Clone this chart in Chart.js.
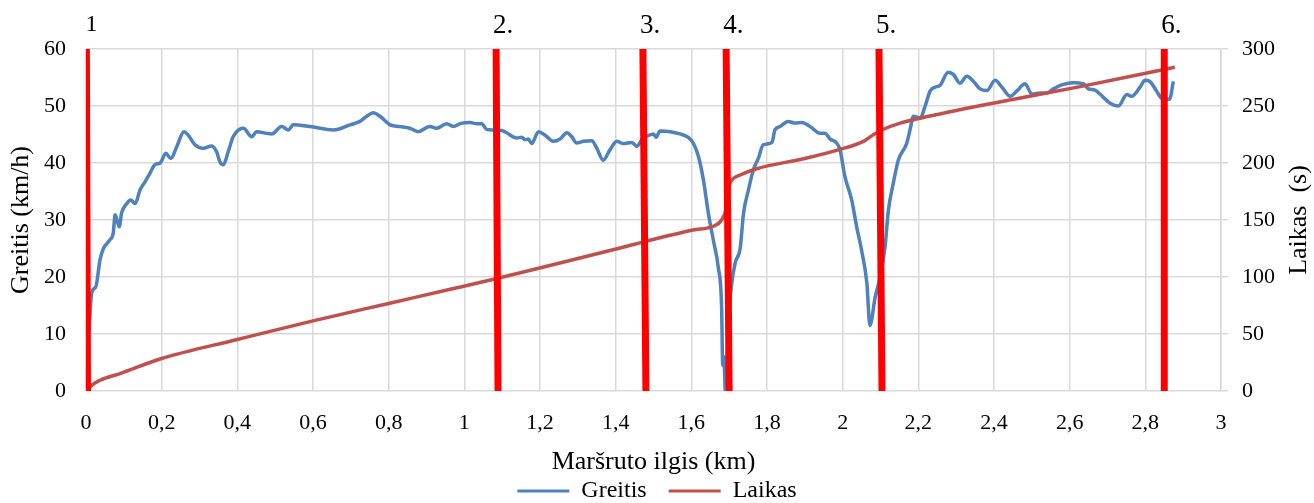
<!DOCTYPE html>
<html>
<head>
<meta charset="utf-8">
<script src="https://cdn.jsdelivr.net/npm/chart.js@4.4.1/dist/chart.umd.min.js"></script>
<style>
  html, body { margin: 0; padding: 0; background: #ffffff; }
  #wrap { width: 1314px; height: 503px; }
</style>
</head>
<body>
<div id="wrap"><canvas id="c" width="1314" height="503"></canvas></div>
<script>
// ---- DATA ----
const greitisKm = [0.008,0.015,0.026,0.037,0.046,0.063,0.072,0.077,0.088,0.094,0.108,0.118,0.13,0.143,0.156,0.169,0.182,0.196,0.211,0.224,0.24,0.259,0.27,0.288,0.31,0.332,0.345,0.354,0.363,0.376,0.389,0.416,0.438,0.451,0.478,0.491,0.517,0.535,0.548,0.592,0.654,0.698,0.724,0.742,0.759,0.777,0.804,0.83,0.856,0.878,0.909,0.927,0.953,0.971,0.989,1.015,1.033,1.046,1.059,1.077,1.099,1.112,1.138,1.152,1.16,1.169,1.178,1.196,1.213,1.235,1.253,1.271,1.284,1.297,1.315,1.337,1.35,1.367,1.385,1.403,1.42,1.443,1.456,1.469,1.486,1.5,1.507,1.517,1.544,1.57,1.592,1.605,1.619,1.632,1.645,1.658,1.671,1.68,1.683,1.686,1.69,1.70,1.707,1.716,1.729,1.738,1.751,1.764,1.777,1.79,1.813,1.821,1.835,1.856,1.874,1.892,1.914,1.94,1.953,1.967,1.984,1.993,2.006,2.024,2.037,2.05,2.064,2.072,2.086,2.099,2.112,2.121,2.134,2.147,2.169,2.178,2.187,2.205,2.218,2.231,2.244,2.257,2.279,2.293,2.31,2.328,2.346,2.363,2.381,2.403,2.421,2.443,2.46,2.482,2.5,2.522,2.54,2.557,2.579,2.61,2.636,2.65,2.667,2.68,2.707,2.729,2.751,2.764,2.786,2.799,2.812,2.83,2.843,2.864,2.874];
const greitisKmh = [10.5,17.2,18.3,23,25,26.5,27.7,30.9,28.8,31.2,32.9,33.5,32.9,35.3,36.7,38.2,39.7,40,41.7,40.8,42.9,45.5,44.9,43.2,42.6,43,42,40.2,39.7,42,44.6,46.1,44.6,45.5,45.2,45.1,46.4,45.8,46.7,46.4,45.8,46.7,47.3,48.2,48.8,48.2,46.7,46.4,46.1,45.5,46.4,46.1,46.9,46.4,46.9,47.1,46.9,46.9,45.9,45.8,45.7,45.3,44.4,44.5,44.1,44.2,43.4,45.5,44.9,43.8,44.2,45.3,44.6,43.5,43.8,43.9,42.6,40.5,42.3,43.8,43.4,43.6,42.9,44.1,44.8,45.1,44.5,45.6,45.5,45.1,44.5,43.5,41.1,37,31.2,26.5,21.8,14.8,4.5,6,0,14,19,22.5,25,31.2,35.3,38.8,40.8,43.2,43.6,45.8,46.4,47.3,47,47.1,46.4,45.2,45.2,44.2,43.5,42.3,37.6,33.5,28.8,24.7,18.9,11.5,16.5,20,25.3,31.8,36.5,40.5,43.4,45.8,48.2,47.9,50,52.6,53.3,53.6,55.9,55.5,54,55.2,54.3,53,52.7,54.5,53.3,51.7,52.6,53.9,52.1,52.3,52.3,53,53.7,54.1,53.9,53,52.8,52.1,50.5,50,52,51.7,53.3,54.5,54.3,52.6,51.4,51.2,54.3];

const laikasKm = [0.003,0.01,0.037,0.09,0.2,0.4,0.6,0.8,0.96,1.086,1.25,1.43,1.482,1.605,1.658,1.68,1.692,1.70,1.707,1.729,1.773,1.9,1.993,2.055,2.081,2.108,2.152,2.205,2.39,2.628,2.878];
const laikasS  = [0,3.5,9.4,15.3,28.5,45.2,61.5,76.8,89,98.7,112,127,131.5,141.2,144.5,150,160,180,185,189.5,195,204,212,219,224.7,229.6,235,239.3,252,267,284];

// Red marker lines: top / bottom positions (km) and labels
const markerTopKm    = [0.001, 1.084, 1.472, 1.692, 2.096, 2.850];
const markerBottomKm = [0.004, 1.089, 1.480, 1.700, 2.104, 2.850];
const markerLabels   = ['1', '2.', '3.', '4.', '5.', '6.'];

const speedTicks = [0, 10, 20, 30, 40, 50, 60];
const timeTicks = [0, 50, 100, 150, 200, 250, 300];

const seriesNames = ['Greitis', 'Laikas'];
const axisTitles = { x: 'Maršruto ilgis (km)', y: 'Greitis (km/h)', y1: 'Laikas  (s)' };

// ---- BUILD ----
const FONT = 'Liberation Serif, Times New Roman, serif';
const toPts = (xs, ys) => xs.map((x, i) => ({ x: x, y: ys[i] }));

const datasets = [
  {
    label: seriesNames[0], data: toPts(greitisKm, greitisKmh), yAxisID: 'y',
    borderColor: '#4F81BD', backgroundColor: '#4F81BD', borderWidth: 3.5,
    pointRadius: 0, cubicInterpolationMode: 'monotone', order: 2
  },
  {
    label: seriesNames[1], data: toPts(laikasKm, laikasS), yAxisID: 'y1',
    borderColor: '#C0504D', backgroundColor: '#C0504D', borderWidth: 3.5,
    pointRadius: 0, cubicInterpolationMode: 'monotone', order: 1
  }
];
markerTopKm.forEach((t, i) => {
  datasets.push({
    label: 'marker' + i,
    data: [{ x: t, y: 60 }, { x: markerBottomKm[i], y: 0 }],
    yAxisID: 'y', borderColor: '#FF0000', backgroundColor: '#FF0000',
    borderWidth: 7, pointRadius: 0, tension: 0, order: 0, borderCapStyle: 'butt'
  });
});

const fmtKm = v => String(Math.round(v * 10) / 10).replace('.', ',');

const overlayPlugin = {
  id: 'overlay',
  afterDraw(chart) {
    const ctx = chart.ctx;
    const xs = chart.scales.x;
    ctx.save();
    ctx.fillStyle = '#000';
    ctx.textBaseline = 'middle';
    ctx.textAlign = 'left';
    markerLabels.forEach((lab, i) => {
      const px = xs.getPixelForValue(markerTopKm[i]);
      if (i === 0) {
        ctx.font = '24px ' + FONT;
        ctx.fillText(lab, px - 1, 25);
      } else {
        ctx.font = '27px ' + FONT;
        ctx.fillText(lab, px - 3, 26);
      }
    });
    // right axis title, reading bottom-to-top
    const ca = chart.chartArea;
    ctx.translate(1299, (ca.top + ca.bottom) / 2);
    ctx.rotate(-Math.PI / 2);
    ctx.textAlign = 'center';
    ctx.font = '26px ' + FONT;
    ctx.fillText(axisTitles.y1, 0, 0);
    ctx.restore();
  }
};

const GRID = '#d9d9d9';

new Chart(document.getElementById('c'), {
  type: 'line',
  data: { datasets: datasets },
  options: {
    responsive: false,
    animation: false,
    devicePixelRatio: 1,
    layout: { padding: { top: 49, left: 0, right: 0, bottom: 0 } },
    plugins: {
      tooltip: { enabled: false },
      legend: {
        position: 'bottom',
        maxHeight: 46,
        labels: {
          font: { family: FONT, size: 24 },
          color: '#000',
          boxWidth: 52,
          boxHeight: 3,
          padding: 22,
          filter: item => seriesNames.includes(item.text),
          sort: (a, b) => a.datasetIndex - b.datasetIndex,
          generateLabels: chart => Chart.defaults.plugins.legend.labels.generateLabels(chart)
            .map(it => Object.assign(it, { lineWidth: 0 }))
        }
      }
    },
    scales: {
      x: {
        type: 'linear', min: 0, max: 3,
        afterFit: s => { s.height = 66; },
        border: { display: false },
        grid: { color: GRID, lineWidth: 1.5, drawTicks: false },
        ticks: {
          stepSize: 0.2, padding: 19, color: '#000',
          font: { family: FONT, size: 22 },
          callback: v => fmtKm(v),
          maxRotation: 0, autoSkip: false
        },
        title: {
          display: true, text: axisTitles.x, color: '#000',
          font: { family: FONT, size: 26 },
          padding: { top: 0, bottom: -20.6 }
        }
      },
      y: {
        position: 'left', min: 0, max: 60,
        afterFit: s => { s.width = 86; },
        afterBuildTicks: s => { s.ticks = speedTicks.map(v => ({ value: v })); },
        border: { display: false },
        grid: { color: GRID, lineWidth: 1.5, drawTicks: false },
        ticks: { padding: 20, color: '#000', font: { family: FONT, size: 22 } },
        title: {
          display: true, text: axisTitles.y, color: '#000',
          font: { family: FONT, size: 26 },
          padding: { top: 6, bottom: 0 }
        }
      },
      y1: {
        position: 'right', min: 0, max: 300,
        afterFit: s => { s.width = 93; },
        afterBuildTicks: s => { s.ticks = timeTicks.map(v => ({ value: v })); },
        border: { display: true, color: GRID, width: 1.5 },
        grid: { drawOnChartArea: false, drawTicks: true, tickLength: 7, color: GRID, lineWidth: 1.5 },
        ticks: { padding: 14, color: '#000', font: { family: FONT, size: 22 } }
      }
    }
  },
  plugins: [overlayPlugin]
});
</script>
</body>
</html>
